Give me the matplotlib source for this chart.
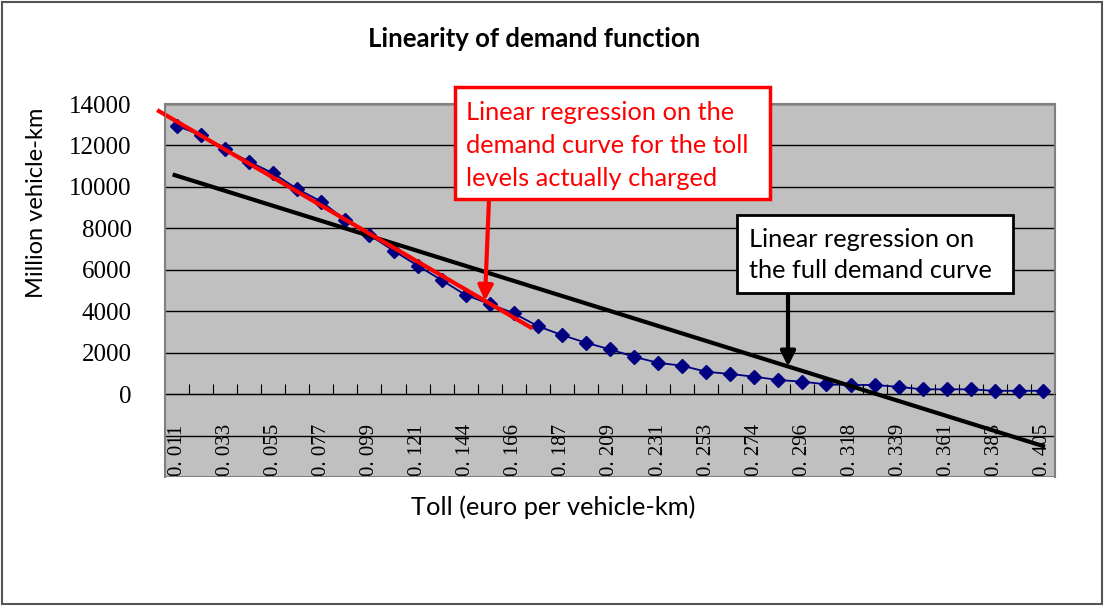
import matplotlib
matplotlib.use('Agg')
import matplotlib.pyplot as plt
import matplotlib.transforms as mtransforms
from matplotlib.patches import Rectangle
import numpy as np

# Demand (million vehicle-km) for each toll level
demand = [12940, 12500, 11820, 11220, 10650, 9900, 9290, 8400, 7680, 6920,
          6200, 5500, 4780, 4350, 3900, 3280, 2850, 2480, 2160, 1800,
          1510, 1370, 1080, 970, 840, 680, 600, 470, 440, 440,
          350, 230, 230, 230, 160, 160, 160]

# Toll labels shown on every other category
toll_labels = ['0. 011', '0. 033', '0. 055', '0. 077', '0. 099', '0. 121',
               '0. 144', '0. 166', '0. 187', '0. 209', '0. 231', '0. 253',
               '0. 274', '0. 296', '0. 318', '0. 339', '0. 361', '0. 383',
               '0. 405']

y_ticks = [-4000, -2000, 0, 2000, 4000, 6000, 8000, 10000, 12000, 14000]
y_tick_labels = ['', '', '0', '2000', '4000', '6000', '8000', '10000',
                 '12000', '14000']

# number of toll levels actually charged (used for the red regression)
n_charged = 16
red_span = (-0.75, 14.7)
black_span = (-0.1, 36.0)

W, H = 1104, 606
SANS = ['Lato', 'DejaVu Sans']
SERIF = ['Liberation Serif', 'DejaVu Serif']


def px(x, y):
    """pixel position -> figure fraction"""
    return x / W, 1 - y / H


fig = plt.figure(figsize=(W / 100, H / 100), dpi=100)
fig.patches.append(Rectangle((2 / W, 2 / H), 1 - 4 / W, 1 - 4 / H,
                             transform=fig.transFigure, fill=False,
                             edgecolor='#555555', lw=1.5))

ax = fig.add_axes([165 / W, 1 - 477 / H, 890 / W, 373 / H])
ax.set_facecolor('#C0C0C0')

x = np.arange(len(demand))
y = np.array(demand)
ax.plot(x, y, color='#000080', lw=1.3, marker='D', ms=7.5, zorder=3)

# regressions
coef_red = np.polyfit(x[:n_charged], y[:n_charged], 1)
coef_full = np.polyfit(x, y, 1)
xs = np.array(black_span)
ax.plot(xs, np.polyval(coef_full, xs), color='black', lw=3, zorder=4)
xs = np.array(red_span)
ax.plot(xs, np.polyval(coef_red, xs), color='red', lw=3, zorder=5,
        clip_on=False)

ax.set_xlim(-0.5, len(demand) - 0.5)
ax.set_ylim(-4000, 14000)
ax.set_yticks(y_ticks)
ax.set_yticklabels(y_tick_labels, family=SERIF, fontsize=18)
ax.tick_params(axis='y', length=0, pad=24)
ax.yaxis.grid(True, color='black', lw=1)
ax.set_axisbelow(True)

# x axis line at zero with tick marks between categories
ax.set_xticks(np.arange(0.5, len(demand) - 1, 1))
ax.set_xticklabels([])
ax.spines['bottom'].set_position(('data', 0))
ax.spines['bottom'].set_color('black')
ax.tick_params(axis='x', direction='in', length=7, color='black')
for s in ['left', 'top', 'right']:
    ax.spines[s].set_color('#808080')
    ax.spines[s].set_linewidth(1.5)
ax.add_patch(Rectangle((0, 0), 1, 1, transform=ax.transAxes, fill=False,
                       edgecolor='#808080', lw=1.5, zorder=6))

trans = mtransforms.blended_transform_factory(ax.transData, ax.transAxes)
for i, lab in enumerate(toll_labels):
    ax.text(2 * i, 0.003, lab, transform=trans, rotation=90, ha='center',
            va='bottom', fontsize=15, family=SERIF)

fig.text(*px(534, 39), 'Linearity of demand function', ha='center',
         va='center', fontsize=18.5, fontweight='bold', family=SANS)
fig.text(*px(553, 507), 'Toll (euro per vehicle-km)', ha='center',
         va='center', fontsize=18.3, family=SANS)
fig.text(*px(37, 203), 'Million vehicle-km', ha='center', va='center',
         rotation=90, fontsize=17, family=SANS)

# red call-out
fig.patches.append(Rectangle(px(455, 199), 315 / W, 112 / H,
                             transform=fig.transFigure, facecolor='white',
                             edgecolor='red', lw=2.5))
for k, line in enumerate(['Linear regression on the',
                          'demand curve for the toll',
                          'levels actually charged']):
    fig.text(*px(466, 112 + 33 * k), line, color='red', fontsize=18.3,
             va='center', family=SANS)
xa = 12.8
ax.annotate('', xy=(xa, np.polyval(coef_red, xa)), xycoords='data',
            xytext=px(489, 199), textcoords='figure fraction',
            arrowprops=dict(arrowstyle='-|>', color='red', lw=3,
                            mutation_scale=22, shrinkA=0, shrinkB=0),
            zorder=7)

# black call-out
fig.patches.append(Rectangle(px(737, 293), 276 / W, 78 / H,
                             transform=fig.transFigure, facecolor='white',
                             edgecolor='black', lw=2))
for k, line in enumerate(['Linear regression on', 'the full demand curve']):
    fig.text(*px(749, 239 + 32 * k), line, color='black', fontsize=18.3,
             va='center', family=SANS)
xb = 25.4
ax.annotate('', xy=(xb, np.polyval(coef_full, xb)), xycoords='data',
            xytext=px(788, 293), textcoords='figure fraction',
            arrowprops=dict(arrowstyle='-|>', color='black', lw=3,
                            mutation_scale=22, shrinkA=0, shrinkB=0),
            zorder=7)

fig.savefig('out.png', dpi=100)
